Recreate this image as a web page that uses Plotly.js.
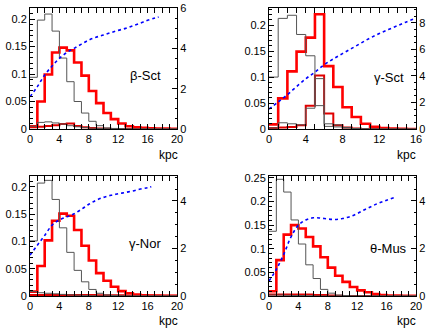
<!DOCTYPE html>
<html>
<head>
<meta charset="utf-8">
<script src="https://cdn.plot.ly/plotly-3.0.1.min.js"></script>
<style>
  html, body { margin: 0; padding: 0; background: #fff; }
  #chart { width: 436px; height: 333px; }
</style>
</head>
<body>
<div id="chart"></div>
<script>
// bin contents per 1 kpc bin (left axis)
const grayMain1 = [0.094, 0.198, 0.209, 0.178, 0.129, 0.086, 0.05, 0.029, 0.014, 0.006, 0.002, 0.001, 0.0005, 0, 0, 0, 0, 0, 0, 0];
const redMain1 = [0.005, 0.05, 0.099, 0.139, 0.148, 0.143, 0.121, 0.097, 0.069, 0.047, 0.029, 0.018, 0.01, 0.005, 0.003, 0.002, 0.0015, 0.001, 0.001, 0.0005];
const graySmall1 = [0.005, 0.012, 0.013, 0.011, 0.009, 0.006, 0.004, 0.0025, 0.0015, 0.001, 0.0005, 0, 0, 0, 0, 0, 0, 0, 0, 0];
const redSmall1 = [0.003, 0.004, 0.0055, 0.007, 0.009, 0.01, 0.0055, 0.003, 0.002, 0.001, 0.0005, 0, 0, 0, 0, 0, 0, 0, 0, 0];

const grayMain2 = [0.1, 0.213, 0.219, 0.182, 0.141, 0.045, 0.005, 0.004, 0.002, 0.001, 0.0005, 0, 0, 0, 0, 0];
const redMain2 = [0.009, 0.059, 0.111, 0.149, 0.176, 0.221, 0.121, 0.081, 0.042, 0.023, 0.01, 0.004, 0.002, 0.001, 0.0005, 0];
const graySmall2 = [0.002, 0.012, 0.01, 0.008, 0.04, 0.097, 0.01, 0.008, 0.003, 0.001, 0, 0, 0, 0, 0, 0];
const redSmall2 = [0.002, 0.003, 0.004, 0.007, 0.045, 0.103, 0.03, 0.007, 0.003, 0.001, 0, 0, 0, 0, 0, 0];

const grayMain3 = [0.101, 0.207, 0.212, 0.177, 0.125, 0.08, 0.047, 0.026, 0.012, 0.005, 0.002, 0.001, 0, 0, 0, 0, 0, 0, 0, 0];
const redMain3 = [0.008, 0.055, 0.102, 0.138, 0.151, 0.147, 0.121, 0.092, 0.065, 0.042, 0.028, 0.017, 0.009, 0.005, 0.0025, 0.0015, 0.001, 0.0008, 0.0005, 0.0003];
const graySmall3 = [0.008, 0.006, 0.005, 0.004, 0.003, 0.002, 0.0015, 0.001, 0.0005, 0, 0, 0, 0, 0, 0, 0, 0, 0, 0, 0];
const redSmall3 = [0.002, 0.002, 0.002, 0.002, 0.002, 0.002, 0.002, 0.0018, 0.0018, 0.0016, 0.0015, 0.0014, 0.0012, 0.001, 0.001, 0.0008, 0.0007, 0.0006, 0.0005, 0.0004];

const grayMain4 = [0.137, 0.247, 0.22, 0.161, 0.11, 0.066, 0.037, 0.014, 0.006, 0.002, 0.001, 0, 0, 0, 0, 0, 0, 0, 0, 0];
const redMain4 = [0.01, 0.076, 0.13, 0.15, 0.143, 0.125, 0.105, 0.082, 0.06, 0.043, 0.03, 0.019, 0.012, 0.008, 0.004, 0.002, 0.001, 0.0008, 0.0005, 0.0003];
const graySmall4 = [0.002, 0.002, 0.0015, 0.001, 0.001, 0.0005, 0, 0, 0, 0, 0, 0, 0, 0, 0, 0, 0, 0, 0, 0];
const redSmall4 = [0.003, 0.003, 0.003, 0.003, 0.003, 0.003, 0.002, 0.002, 0.001, 0.0005, 0, 0, 0, 0, 0, 0, 0, 0, 0, 0];

// dotted curves (right axis)
const blueX1 = [0, 1, 2, 3, 4, 5, 6, 7, 8, 9, 10, 11, 12, 13, 14, 15, 16, 17, 17.5];
const blueY1 = [1.6, 2.1, 2.68, 3.12, 3.5, 3.79, 4.0, 4.21, 4.41, 4.55, 4.66, 4.78, 4.89, 4.99, 5.12, 5.25, 5.39, 5.5, 5.55];
const blueX2 = [0, 1, 2, 3, 4, 5, 6, 7, 8, 9, 10, 11, 12, 13, 14, 15, 16];
const blueY2 = [1.5, 2.04, 2.59, 3.2, 3.79, 4.29, 4.84, 5.29, 5.69, 6.08, 6.48, 6.86, 7.2, 7.5, 7.8, 8.1, 8.35];
const blueX3 = [0, 1, 2, 3, 4, 5, 6, 7, 8, 9, 10, 11, 12, 13, 14, 15, 16, 16.5];
const blueY3 = [1.72, 2.14, 2.55, 2.98, 3.2, 3.33, 3.46, 3.65, 3.86, 4.03, 4.15, 4.24, 4.3, 4.36, 4.42, 4.5, 4.56, 4.6];
const blueX4 = [0, 1, 2, 3, 4, 5, 6, 7, 8, 9, 10, 11, 12, 13, 14, 15, 16, 17];
const blueY4 = [0.63, 1.12, 1.75, 2.49, 2.98, 3.2, 3.29, 3.28, 3.24, 3.22, 3.26, 3.34, 3.47, 3.63, 3.78, 3.92, 4.03, 4.14];

const labels = ["β-Sct", "γ-Sct", "γ-Nor", "θ-Mus"];

const FONT = "Liberation Sans, Arial, sans-serif";

function stepTrace(values, xa, ya, color, width){
    const x = values.map((v, i) => i);
    const y = values.slice();
    x.push(values.length);
    y.push(values[values.length - 1]);
    return {
        x, y, xaxis: xa, yaxis: ya,
        type: "scatter", mode: "lines",
        line: {shape: "hv", color, width},
        hoverinfo: "skip"
    };
}

function curveTrace(x, y, xa, ya){
    return {
        x, y, xaxis: xa, yaxis: ya,
        type: "scatter", mode: "lines",
        line: {color: "#0000ff", width: 1.6, dash: "dot", shape: "spline"},
        hoverinfo: "skip"
    };
}

const panels = [
    {gm: grayMain1, rm: redMain1, gs: graySmall1, rs: redSmall1, bx: blueX1, by: blueY1},
    {gm: grayMain2, rm: redMain2, gs: graySmall2, rs: redSmall2, bx: blueX2, by: blueY2},
    {gm: grayMain3, rm: redMain3, gs: graySmall3, rs: redSmall3, bx: blueX3, by: blueY3},
    {gm: grayMain4, rm: redMain4, gs: graySmall4, rs: redSmall4, bx: blueX4, by: blueY4}
];

const traces = [];
panels.forEach((p, i) => {
    const xa = i === 0 ? "x" : "x" + (i + 1);
    const ya = i === 0 ? "y" : "y" + (i + 1);
    const yr = "y" + (i + 5);
    traces.push(stepTrace(p.rs, xa, ya, "#e00000", 2));
    traces.push(stepTrace(p.rm, xa, ya, "#ff0000", 2.6));
    traces.push(stepTrace(p.gs, xa, ya, "#555555", 1));
    traces.push(stepTrace(p.gm, xa, ya, "#555555", 1));
    traces.push(curveTrace(p.bx, p.by, xa, yr));
});

const W = 436, H = 333;
const colDom = [[30 / W, 177 / W], [269 / W, 416 / W]];
const rowDom = [[1 - 129 / H, 1 - 8 / H], [1 - 296 / H, 1 - 176 / H]];

const tickFont = {family: FONT, size: 11, color: "#000"};

function xAxis(max, anchor, dom){
    return {
        domain: dom, anchor, range: [0, max],
        dtick: 4, tick0: 0, ticks: "inside", ticklen: 5, tickcolor: "#000",
        minor: {dtick: 1, ticks: "inside", ticklen: 2.5, tickcolor: "#000"},
        showline: true, linecolor: "#000", linewidth: 1, mirror: "allticks",
        showgrid: false, zeroline: false, tickfont: tickFont, fixedrange: true
    };
}

function yLeft(max, anchor, dom){
    return {
        domain: dom, anchor, range: [0, max],
        dtick: 0.05, tick0: 0, ticks: "inside", ticklen: 5, tickcolor: "#000",
        minor: {dtick: 0.01, ticks: "inside", ticklen: 2.5, tickcolor: "#000"},
        showline: true, linecolor: "#000", linewidth: 1, mirror: true,
        showgrid: false, zeroline: false, tickfont: tickFont, fixedrange: true
    };
}

function yRight(max, anchor, over){
    return {
        overlaying: over, anchor, side: "right", range: [0, max],
        dtick: 2, tick0: 0, ticks: "inside", ticklen: 5, tickcolor: "#000",
        minor: {dtick: 0.5, ticks: "inside", ticklen: 2.5, tickcolor: "#000"},
        showline: true, linecolor: "#000", linewidth: 1,
        showgrid: false, zeroline: false, tickfont: tickFont, fixedrange: true
    };
}

const annFont = {family: FONT, size: 13, color: "#000"};
const kpcFont = {family: FONT, size: 12, color: "#000"};

const annotations = [
    {text: labels[0], x: 145 / W, y: 1 - 75 / H},
    {text: labels[1], x: 389 / W, y: 1 - 77 / H},
    {text: labels[2], x: 145 / W, y: 1 - 243 / H},
    {text: labels[3], x: 388 / W, y: 1 - 248 / H}
].map(a => Object.assign(a, {
    xref: "paper", yref: "paper", xanchor: "center", yanchor: "middle",
    showarrow: false, font: annFont
}));

[[168, 155], [406, 155], [168, 321], [406, 321]].forEach(([px, py]) => {
    annotations.push({
        text: "kpc", x: px / W, y: 1 - py / H, xref: "paper", yref: "paper",
        xanchor: "center", yanchor: "middle",
        showarrow: false, font: kpcFont
    });
});

const layout = {
    width: W, height: H,
    margin: {l: 0, r: 0, t: 0, b: 0},
    paper_bgcolor: "#fff", plot_bgcolor: "#fff",
    showlegend: false,
    font: {family: FONT, size: 11, color: "#000"},
    xaxis: xAxis(20, "y", colDom[0]),
    xaxis2: xAxis(16, "y2", colDom[1]),
    xaxis3: xAxis(20, "y3", colDom[0]),
    xaxis4: xAxis(20, "y4", colDom[1]),
    yaxis: yLeft(0.22, "x", rowDom[0]),
    yaxis2: yLeft(0.233, "x2", rowDom[0]),
    yaxis3: yLeft(0.22, "x3", rowDom[1]),
    yaxis4: yLeft(0.254, "x4", rowDom[1]),
    yaxis5: yRight(6, "x", "y"),
    yaxis6: yRight(9.13, "x2", "y2"),
    yaxis7: yRight(5.05, "x3", "y3"),
    yaxis8: yRight(5.05, "x4", "y4"),
    annotations
};

Plotly.newPlot("chart", traces, layout, {displayModeBar: false, staticPlot: true});
</script>
</body>
</html>
